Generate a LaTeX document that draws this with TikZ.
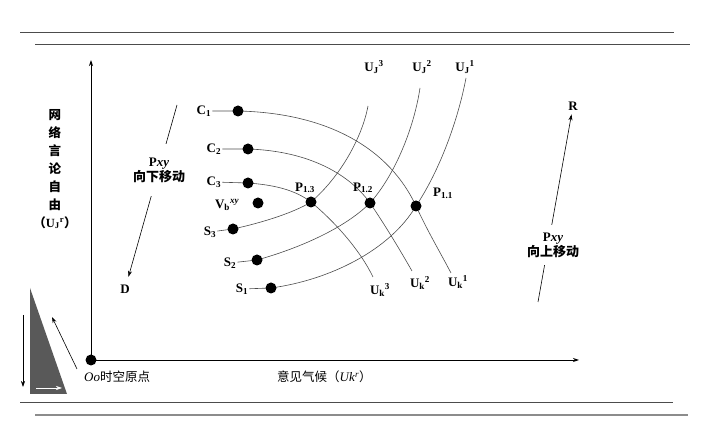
\documentclass[tikz,border=0pt]{standalone}
\usepackage{fontspec}
\setmainfont{Liberation Serif}
\newfontfamily\cjk{Noto Sans CJK SC}
\usetikzlibrary{arrows.meta,positioning,backgrounds}

\begin{document}
\begin{tikzpicture}[
    x=1pt, y=-1pt,
    font=\fontsize{13}{15}\selectfont,
    >={Stealth[length=6pt,width=4pt]},
    dot/.style={circle, fill=black, inner sep=0pt, minimum size=11pt},
    lbl/.style={inner sep=1pt, font=\fontsize{13}{15}\selectfont\bfseries},
    curve/.style={draw=black!70, line width=0.6pt},
    axis/.style={->, line width=0.9pt},
    arrow/.style={->, line width=0.6pt},
    rule/.style={draw=black!70, line width=0.9pt},
    move/.style={fill=white, align=center, inner xsep=2pt, font=\fontsize{13}{15}\selectfont\bfseries}
]
    \useasboundingbox (0,0) rectangle (705,446);

    % Page rules
    \draw[rule] (20,32) -- (674,32);
    \draw[rule] (35,44) -- (690,44);
    \draw[rule] (20,402) -- (673,402);
    \draw[rule, draw=black!45, line width=1.6pt] (35,415) -- (688,415);

    % Axes
    \node[dot] (O) at (91,360) {};
    \coordinate (ytop) at (91,60);
    \coordinate (xend) at (579,360);
    \draw[axis] (O.center) -- (ytop);
    \draw[axis] (O.center) -- (xend);

    \node[anchor=west, inner sep=0pt] (Olbl) at (84,377) {\textit{Oo}{\cjk\fontsize{12.5}{15}\selectfont 时空原点}};
    \node[anchor=west, inner sep=0pt] (xlbl) at (277,377) {{\cjk\fontsize{12.5}{15}\selectfont 意见气候（}\textit{Uk}\textsuperscript{\itshape r}{\cjk\fontsize{12.5}{15}\selectfont ）}};
    \node[align=center, inner sep=0pt, font=\cjk\fontsize{12.5}{18}\selectfont\bfseries] (ylbl) at (55,169)
        {网\\络\\言\\论\\自\\由\\（{\rmfamily U\textsubscript{J}\textsuperscript{r}}）};

    % Left triangle
    \fill[black!65] (30,288) -- (30,394) -- (67,394) -- cycle;
    \draw[arrow] (23,315) -- (23,387);
    \draw[arrow] (77,369) -- (52,317);
    \draw[arrow, white] (36,388) -- (62,388);

    % Points
    \node[dot] (c1) at (238,111) {};
    \node[dot] (c2) at (248,149) {};
    \node[dot] (c3) at (248,183) {};
    \node[dot] (vb) at (258,203) {};
    \node[dot] (s3) at (233,229) {};
    \node[dot] (s2) at (257,260) {};
    \node[dot] (s1) at (271,288) {};
    \node[dot] (p13) at (311,202) {};
    \node[dot] (p12) at (370,203) {};
    \node[dot] (p11) at (416,206) {};

    \node[lbl, left=20pt of c1] (C1) {C\textsubscript{1}};
    \node[lbl, left=20pt of c2] (C2) {C\textsubscript{2}};
    \node[lbl, left=20pt of c3, yshift=1pt] (C3) {C\textsubscript{3}};
    \node[lbl, left=12pt of vb, yshift=-2pt] (Vb) {V\textsubscript{b}\textsuperscript{\itshape xy}};
    \node[lbl, left=10pt of s3, yshift=-3pt] (S3) {S\textsubscript{3}};
    \node[lbl, left=14pt of s2, yshift=-3pt] (S2) {S\textsubscript{2}};
    \node[lbl, left=16pt of s1, yshift=-1pt] (S1) {S\textsubscript{1}};
    \node[lbl, above=2pt of p13, xshift=-6pt] (P13) {P\textsubscript{1.3}};
    \node[lbl, above=3pt of p12, xshift=-7pt] (P12) {P\textsubscript{1.2}};
    \node[lbl, above right=2pt and 12pt of p11] (P11) {P\textsubscript{1.1}};

    % Curve ends
    \coordinate (k1) at (451,273);
    \coordinate (k2) at (412,271);
    \coordinate (k3) at (373,277);
    \coordinate (j1) at (466,78);
    \coordinate (j2) at (420,88);
    \coordinate (j3) at (368,106);

    \node[lbl] (Uk1) at (458,282) {U\textsubscript{k}\textsuperscript{1}};
    \node[lbl] (Uk2) at (420,283) {U\textsubscript{k}\textsuperscript{2}};
    \node[lbl] (Uk3) at (380,290) {U\textsubscript{k}\textsuperscript{3}};
    \node[lbl] (Uj1) at (465,67) {U\textsubscript{J}\textsuperscript{1}};
    \node[lbl] (Uj2) at (422,67) {U\textsubscript{J}\textsuperscript{2}};
    \node[lbl] (Uj3) at (374,67) {U\textsubscript{J}\textsuperscript{3}};

    % Curves
    \begin{scope}[on background layer]
        \draw[curve] (C1) -- (c1.center) .. controls (330,113) and (390,150) .. (p11.center) .. controls (428,232) and (440,252) .. (k1);
        \draw[curve] (C2) -- (c2.center) .. controls (310,151) and (350,175) .. (p12.center) .. controls (385,225) and (400,250) .. (k2);
        \draw[curve] (C3) -- (c3.center) .. controls (275,185) and (295,190) .. (p13.center) .. controls (335,222) and (360,250) .. (k3);
        \draw[curve] (S3) -- (s3.center) .. controls (265,222) and (295,212) .. (p13.center) .. controls (340,177) and (362,138) .. (j3);
        \draw[curve] (S2) -- (s2.center) .. controls (300,248) and (345,228) .. (p12.center) .. controls (395,175) and (414,128) .. (j2);
        \draw[curve] (S1) -- (s1.center) .. controls (330,280) and (390,250) .. (p11.center) .. controls (440,170) and (458,120) .. (j1);
    \end{scope}

    % Moves
    \node[lbl] (D) at (125,289) {D};
    \coordinate (dtop) at (177,105);
    \draw[arrow, shorten >=7pt] (dtop) -- (D);
    \node[move, inner ysep=14pt] (down) at (159,170) {P\textit{xy}\\{\cjk 向下移动}};

    \node[lbl] (R) at (573,106) {R};
    \coordinate (rbot) at (538,302);
    \draw[arrow, shorten >=3pt] (rbot) -- (R);
    \node[move, inner ysep=8pt] (up) at (553,245) {P\textit{xy}\\{\cjk 向上移动}};

\end{tikzpicture}
\end{document}
